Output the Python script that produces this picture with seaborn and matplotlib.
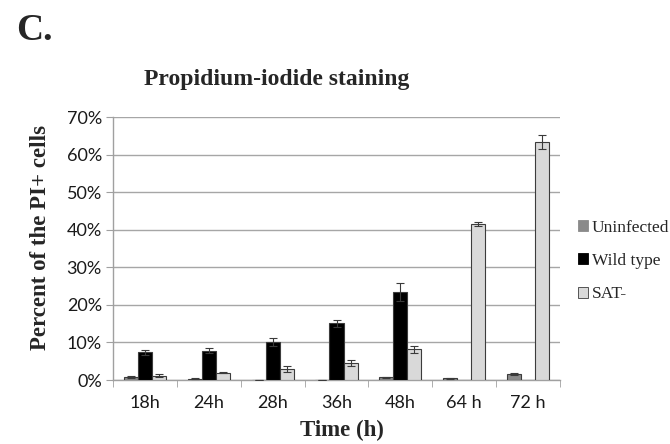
import numpy as np
import pandas as pd
import matplotlib
matplotlib.use("Agg")
import matplotlib.pyplot as plt
import seaborn as sns
from matplotlib.ticker import FixedLocator, FuncFormatter
from matplotlib.patches import Patch

# ---- data ----
times = ["18h", "24h", "28h", "36h", "48h", "64 h", "72 h"]
groups = ["Uninfected", "Wild type", "SAT-"]
uninfected = [0.7, 0.3, 0.1, 0.1, 0.7, 0.4, 1.5]
uninfected_err = [0.3, 0.1, 0.0, 0.0, 0.2, 0.1, 0.3]
wild_type = [7.4, 7.8, 10.2, 15.1, 23.3, 0.0, 0.0]
wild_type_err = [0.7, 0.6, 1.1, 1.0, 2.4, 0.0, 0.0]
sat_minus = [1.1, 1.9, 2.9, 4.5, 8.2, 41.6, 63.4]
sat_minus_err = [0.4, 0.1, 0.7, 0.8, 0.9, 0.5, 1.9]
yticks = [0, 10, 20, 30, 40, 50, 60, 70]

values = [uninfected, wild_type, sat_minus]
errors = [uninfected_err, wild_type_err, sat_minus_err]
df = pd.DataFrame({
    "time": np.repeat([times], 3, axis=0).ravel(),
    "group": np.repeat(groups, len(times)),
    "value": np.concatenate(values),
})

colors = {"Uninfected": "#8a8a8a", "Wild type": "#000000", "SAT-": "#d9d9d9"}
edge = "#3c3c3c"

sns.set_style("white")
serif = ["Liberation Serif", "DejaVu Serif"]
sansf = ["Lato", "DejaVu Sans"]

fig = plt.figure(figsize=(6.7, 4.44), dpi=100)
ax = fig.add_axes([113 / 670, 1 - 380 / 444, (560 - 113) / 670, (380 - 117) / 444])

sns.barplot(data=df, x="time", y="value", hue="group", order=times,
            hue_order=groups, palette=colors, width=0.66, gap=0,
            edgecolor=edge, linewidth=0.8, errorbar=None, legend=False,
            ax=ax, zorder=3)

# error bars from bar geometry
for cont, errs in zip(ax.containers, errors):
    for bar, e in zip(cont, errs):
        h = bar.get_height()
        if h <= 0 and e <= 0:
            continue
        xc = bar.get_x() + bar.get_width() / 2
        ax.errorbar(xc, h, yerr=e, fmt="none", ecolor="#3a3a3a",
                    elinewidth=0.8, capsize=3, capthick=0.8, zorder=4)

ax.set_ylim(0, 70)
ax.set_xlim(-0.5, len(times) - 0.5)
ax.yaxis.set_major_locator(FixedLocator(yticks))
ax.yaxis.set_major_formatter(FuncFormatter(lambda v, p: f"{int(v)}%"))
ax.grid(axis="y", color="#a6a6a6", linewidth=1.0, zorder=0)
ax.set_axisbelow(True)

for s in ["top", "right"]:
    ax.spines[s].set_visible(False)
for s in ["left", "bottom"]:
    ax.spines[s].set_color("#a0a0a0")
    ax.spines[s].set_linewidth(1.0)

ax.tick_params(axis="y", which="major", length=5, color="#a0a0a0",
               direction="out", labelsize=13, pad=3, left=True)
ax.tick_params(axis="x", which="major", length=0, labelsize=13, pad=11)
ax.xaxis.set_minor_locator(FixedLocator(np.arange(-0.5, len(times), 1.0)))
ax.tick_params(axis="x", which="minor", length=5, color="#a0a0a0",
               direction="out", bottom=True)
for lab in ax.get_xticklabels() + ax.get_yticklabels():
    lab.set_family(sansf)
    lab.set_color("#1a1a1a")

ax.set_xlabel("")
ax.set_ylabel("")
fig.text(342 / 670, 1 - 430 / 444, "Time (h)", ha="center", va="center",
         family=serif, fontweight="bold", fontsize=16.5)
fig.text(41 / 670, 1 - 238 / 444, "Percent of the PI+ cells", ha="center",
         va="center", rotation=90, family=serif, fontweight="bold", fontsize=16.5)
fig.text(277 / 670, 1 - 80 / 444, "Propidium-iodide staining", ha="center",
         va="center", family=serif, fontweight="bold", fontsize=17)
fig.text(16 / 670, 1 - 31 / 444, "C.", ha="left", va="center",
         family=serif, fontweight="bold", fontsize=27)

handles = [Patch(facecolor=colors[g], edgecolor=edge if g == "SAT-" else colors[g],
                 linewidth=0.6) for g in groups]
leg = fig.legend(handles, groups, loc="center left",
                 bbox_to_anchor=(578 / 670, 1 - 261 / 444), frameon=False,
                 prop={"family": serif, "size": 12.5}, handlelength=0.6,
                 handleheight=0.6, handletextpad=0.2, labelspacing=1.0,
                 borderaxespad=0, borderpad=0)

fig.savefig("out.png", dpi=100, facecolor="white")
